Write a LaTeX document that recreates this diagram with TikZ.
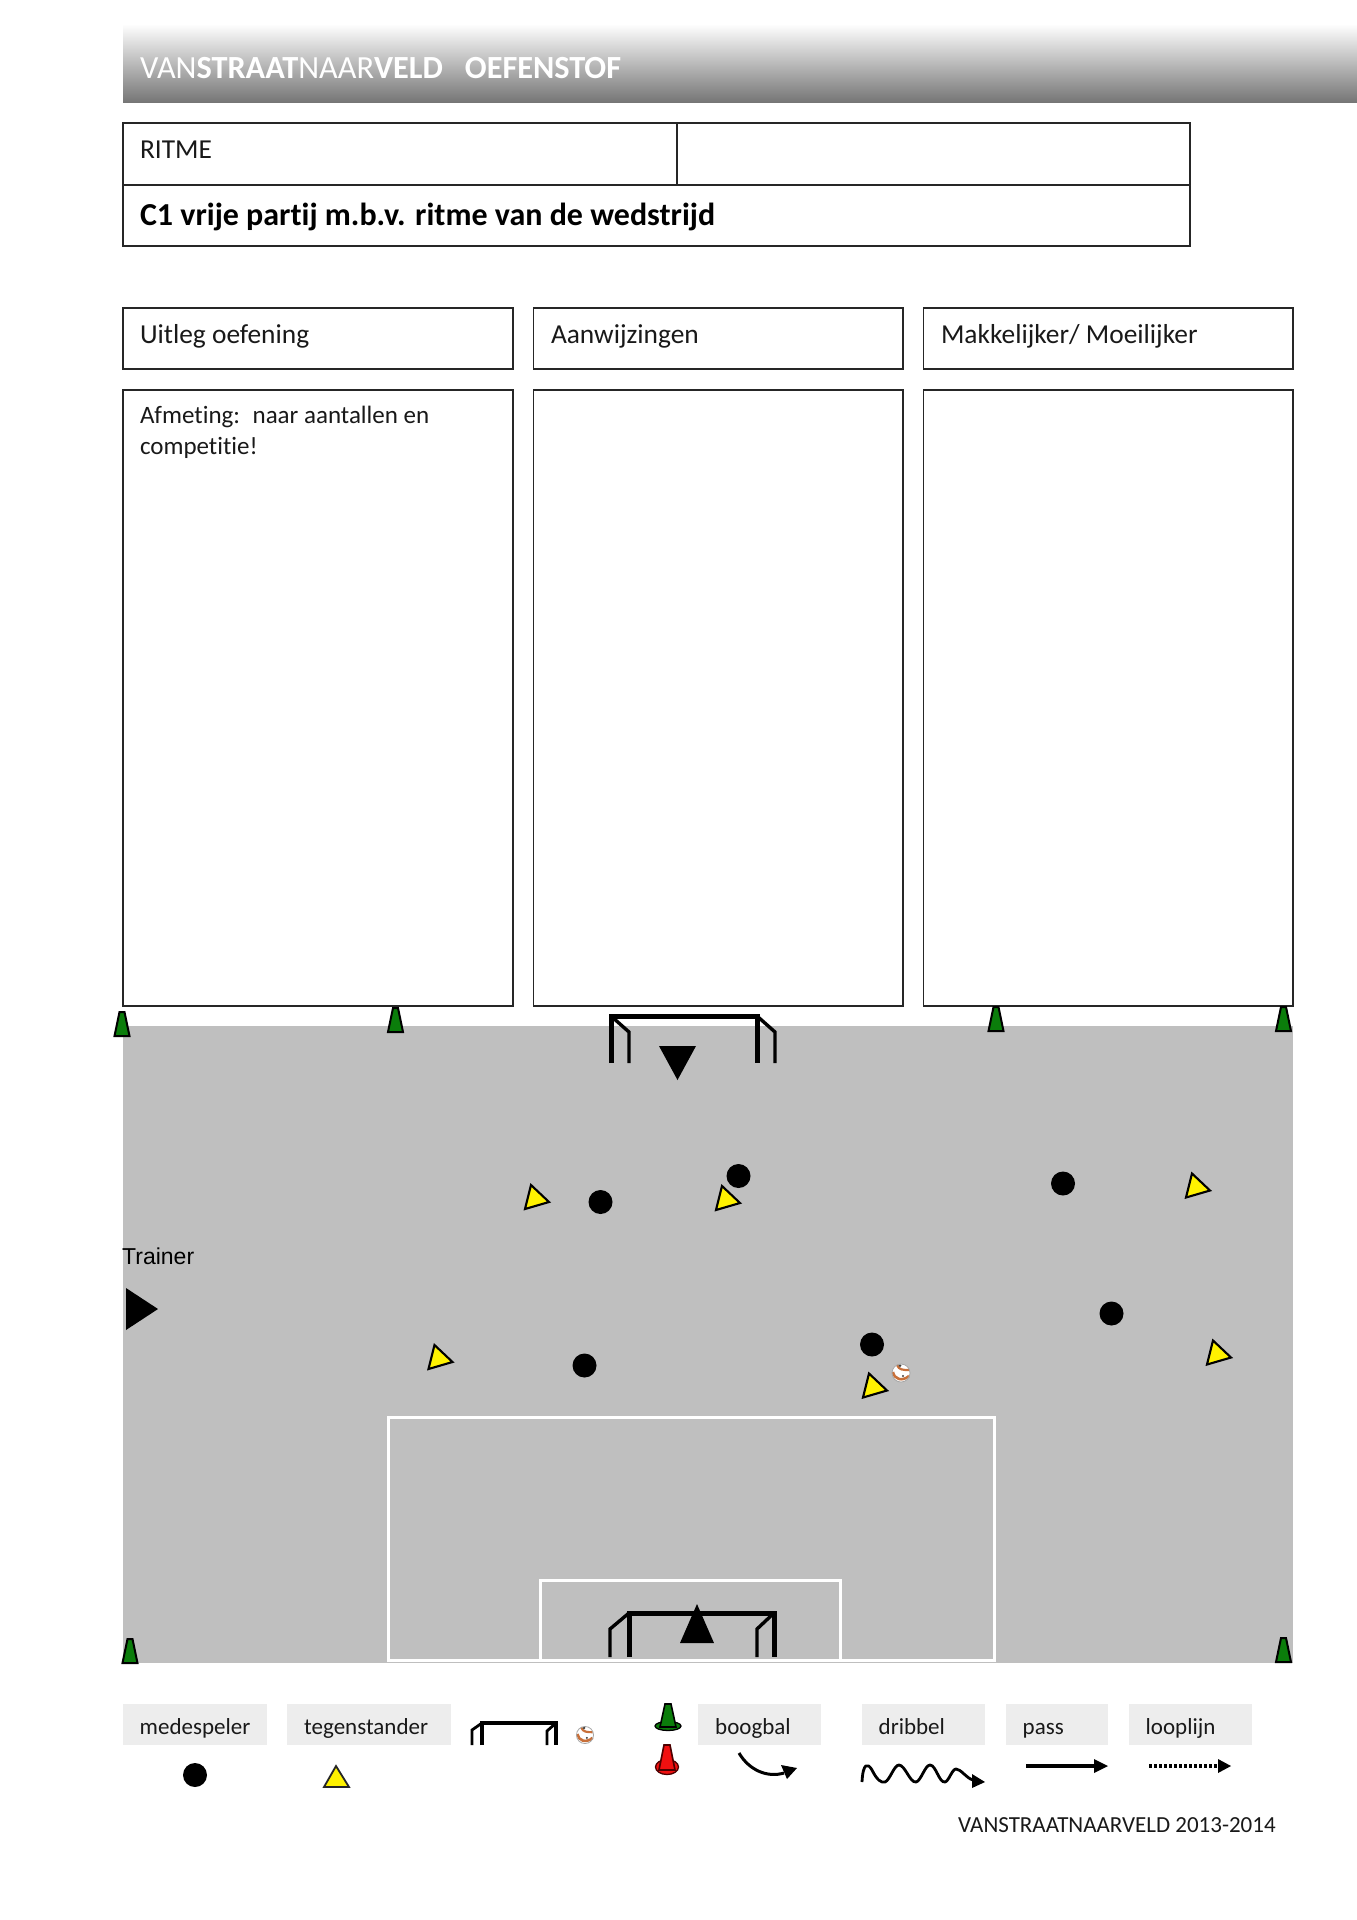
\documentclass[tikz,border=0pt]{standalone}
\usepackage{fontspec}
\setmainfont[Ligatures=NoCommon]{Carlito}
\newfontfamily\trainerfont{Liberation Sans}
\definecolor{fieldgray}{HTML}{BFBFBF}
\definecolor{leggray}{HTML}{EDEDED}
\definecolor{conegreen}{HTML}{0B7D0B}
\definecolor{conered}{HTML}{F01010}
\definecolor{headgray}{HTML}{767676}
\definecolor{ballorange}{HTML}{C8703A}
\usetikzlibrary{arrows.meta}
\tikzset{
  frame/.style={draw=black!85,line width=1.6pt,fill=white},
  txt/.style={anchor=base west,inner sep=0pt,outer sep=0pt,font=\fontsize{27.4}{32}\selectfont,text=black!90},
  legbox/.style={fill=leggray,draw=none},
  legtxt/.style={anchor=base west,inner sep=0pt,font=\fontsize{23}{28}\selectfont,text=black!90},
  player/.style={circle,fill=black,draw=none,minimum size=24pt,inner sep=0pt},
  whiteline/.style={draw=white,line width=3pt},
  goalpost/.style={line width=5pt,line cap=butt},
  goalback/.style={line width=3.4pt,line cap=butt},
  pics/fieldcone/.style={code={
    \draw[fill=conegreen,draw=black,line width=2pt] (-7.5,0) -- (-2.5,-24) -- (2.5,-24) -- (7.5,0) -- cycle;}},
  pics/opp/.style={code={
    \draw[fill=yellow,draw=black,line width=2.1pt,line join=miter] (-4,-14) -- (-10,10) -- (14,3) -- cycle;}},
  pics/ball/.style={code={
    \fill[white] (0,0) circle (9);
    \draw[ballorange,line width=2.6pt] (-8,-1) .. controls (-7,6) and (1,9) .. (8,3);
    \draw[ballorange,line width=2.2pt] (-4,-8) .. controls (-2,-3) and (2,-3) .. (8,-3);
    \fill[black!75] (-1,-7.5) circle (1.5);
    \fill[black!75] (2,3) circle (1.1);
    \draw[black!35,line width=.8pt] (0,0) circle (9);}}
}
\begin{document}
\begin{tikzpicture}[x=1pt,y=-1pt]
\useasboundingbox (0,0) rectangle (1357,1920);
\fill[white] (0,0) rectangle (1357,1920);
% header
\shade[top color=white,bottom color=headgray] (123,24) rectangle (1357,102);
\node[anchor=base west,inner sep=0pt,text=white,font=\fontsize{32.3}{38}\selectfont] (hdr) at (140,78) {VAN\textbf{STRAAT}NAAR\textbf{VELD}\hspace{22pt}\textbf{OEFENSTOF}};
% title table
\draw[frame] (123,123) rectangle (1190,246);
\draw[frame] (123,185) -- (1190,185);
\draw[frame] (677,123) -- (677,185);
\node[txt] (ritme) at (140,158.5) {RITME};
\node[txt,font=\fontsize{32}{38}\bfseries\selectfont,text=black] (title) at (140,225) {C1 vrije partij m.b.v. ritme van de wedstrijd};
% column heads
\draw[frame] (123,308) rectangle (513,369);
\draw[frame] (533.5,308) rectangle (903,369);
\draw[frame] (923.5,308) rectangle (1293,369);
\node[txt] (uitleg) at (140,343) {Uitleg oefening};
\node[txt] (aanw) at (551,343) {Aanwijzingen};
\node[txt] (makk) at (941,343) {Makkelijker/ Moeilijker};
% column bodies
\draw[frame] (123,390) rectangle (513,1006);
\draw[frame] (533.5,390) rectangle (903,1006);
\draw[frame] (923.5,390) rectangle (1293,1006);
\node[txt,font=\fontsize{25}{30}\selectfont] (afm1) at (140,423) {Afmeting:\hspace{5pt} naar aantallen en};
\node[txt,font=\fontsize{25}{30}\selectfont] (afm2) at (140,454) {competitie!};
% field
\fill[fieldgray] (123,1026) rectangle (1293,1663);
\draw[whiteline] (388,1660) -- (388,1417) -- (994,1417) -- (994,1660) -- cycle;
\draw[whiteline] (540,1660) -- (540,1580) -- (840,1580) -- (840,1660);
% cones
\pic at (122,1036) {fieldcone};
\pic at (395.5,1032) {fieldcone};
\pic at (996,1031) {fieldcone};
\pic at (1283.5,1031) {fieldcone};
\pic at (130,1663) {fieldcone};
\pic at (1283.5,1662) {fieldcone};
% top goal
\draw[goalpost] (611,1063) -- (611,1016) -- (757,1016) -- (757,1063);
\draw[goalback] (611,1016) -- (629,1032) -- (629,1063);
\draw[goalback] (757,1016) -- (775,1032) -- (775,1063);
\fill[black] (659,1046) -- (696,1046) -- (677.5,1080) -- cycle;
% bottom goal
\draw[goalpost] (629,1657) -- (629,1613) -- (774,1613) -- (774,1657);
\draw[goalback] (629,1613) -- (610,1629) -- (610,1657);
\draw[goalback] (774,1613) -- (757,1629) -- (757,1657);
\fill[black] (697,1604) -- (714,1643) -- (680,1643) -- cycle;
% players
\node[player] (p1) at (600.5,1202) {};
\node[player] (p2) at (738.5,1176) {};
\node[player] (p3) at (1063,1183.5) {};
\node[player] (p4) at (1111.5,1313.5) {};
\node[player] (p5) at (584.5,1365.5) {};
\node[player] (p6) at (872,1344.5) {};
% opponents
\pic at (535,1199) {opp};
\pic at (726,1200) {opp};
\pic at (1196,1187.5) {opp};
\pic at (438.5,1359) {opp};
\pic at (1217,1354.5) {opp};
\pic at (873,1387.5) {opp};
\pic at (901,1373) {ball};
% trainer
\node[anchor=base west,inner sep=0pt,font=\trainerfont\fontsize{23}{27}\selectfont] (trainer) at (122,1264) {Trainer};
\fill[black] (126,1288) -- (158,1309) -- (126,1330) -- cycle;
% legend
\fill[legbox] (123,1704) rectangle (266.5,1745);
\fill[legbox] (287,1704) rectangle (451,1745);
\fill[legbox] (698,1704) rectangle (821,1745);
\fill[legbox] (862,1704) rectangle (985,1745);
\fill[legbox] (1006,1704) rectangle (1108,1745);
\fill[legbox] (1129,1704) rectangle (1252,1745);
\node[legtxt] (l1) at (139.5,1734) {medespeler};
\node[legtxt] (l2) at (304,1734) {tegenstander};
\node[legtxt] (l3) at (715,1734) {boogbal};
\node[legtxt] (l4) at (878.5,1734) {dribbel};
\node[legtxt] (l5) at (1022.5,1734) {pass};
\node[legtxt] (l6) at (1145.5,1734) {looplijn};
\node[player] (legp) at (195,1775) {};
\draw[fill=yellow,draw=black!85,line width=1.8pt] (336,1766) -- (349,1787) -- (324,1787) -- cycle;
% legend goal
\draw[line width=4.5pt] (482,1745) -- (482,1723) -- (556,1723) -- (556,1745);
\draw[line width=2.8pt] (482,1723) -- (472,1730) -- (472,1745);
\draw[line width=2.8pt] (547,1745) -- (547,1731) -- (556,1723);
\pic[scale=.95] at (585,1735) {ball};
% legend cones
\draw[fill=conegreen,draw=black,line width=1.3pt] (668,1726) ellipse (13 and 4.5);
\draw[fill=conegreen,draw=black,line width=1.6pt] (660,1727) -- (665,1704) -- (671,1704) -- (676,1727) -- cycle;
\draw[fill=conered,draw=black!70!red,line width=1.3pt] (667,1767) ellipse (11.5 and 7.5);
\draw[fill=conered,draw=black!70!red,line width=1.6pt] (659,1770) -- (664,1745) -- (670,1745) -- (675,1770) -- cycle;
% legend arrows
\coordinate (bs) at (739,1753);
\coordinate (be) at (797,1768);
\draw[line width=3pt] (bs) .. controls (749,1770) and (767,1778) .. (784,1773);
\fill[black] (be) -- (781,1765) -- (787,1779) -- cycle;
\coordinate (ds) at (862,1782);
\draw[line width=2.8pt,line join=round] (ds) .. controls (863,1762) and (868,1763) .. (872,1770)
  .. controls (877,1780) and (881,1783) .. (885,1782)
  .. controls (890,1780) and (894,1765) .. (899,1765)
  .. controls (905,1765) and (910,1783) .. (916,1782)
  .. controls (921,1781) and (925,1765) .. (930,1765)
  .. controls (936,1765) and (939,1783) .. (945,1782)
  .. controls (949,1781) and (952,1769) .. (956,1769)
  .. controls (961,1769) and (966,1778) .. (973,1780);
\coordinate (de) at (985,1782);
\fill[black] (de) -- (972,1774) -- (972,1788) -- cycle;
\coordinate (ps) at (1026,1766);
\coordinate (pe) at (1108,1766);
\draw[line width=3.2pt] (ps) -- (1096,1766);
\fill[black] (pe) -- (1094,1759) -- (1094,1773) -- cycle;
\coordinate (ls) at (1149,1766);
\coordinate (le) at (1231,1766);
\draw[line width=3.2pt,dash pattern=on 2.5pt off 2.5pt] (ls) -- (1219,1766);
\fill[black] (le) -- (1218,1759) -- (1218,1773) -- cycle;
\node[legtxt] (foot) at (958,1832) {VANSTRAATNAARVELD 2013-2014};
\end{tikzpicture}
\end{document}
